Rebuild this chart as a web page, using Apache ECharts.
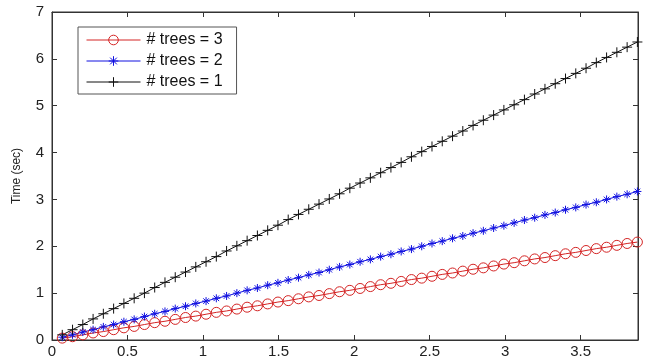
<!DOCTYPE html>
<html>
<head>
<meta charset="utf-8">
<script src="https://cdn.jsdelivr.net/npm/echarts@6/dist/echarts.min.js"></script>
<style>
html,body{margin:0;padding:0;background:#fff;}
#chart{width:645px;height:360px;}
</style>
</head>
<body>
<div id="chart"></div>
<script>
// x positions of the samples
var xs = [0.068,0.136,0.204,0.272,0.34,0.408,0.476,0.544,0.612,0.68,0.748,0.816,0.884,0.952,1.02,1.088,1.156,1.224,1.292,1.36,1.428,1.496,1.564,1.632,1.7,1.768,1.836,1.904,1.972,2.04,2.108,2.176,2.244,2.312,2.38,2.448,2.516,2.584,2.652,2.72,2.788,2.856,2.924,2.992,3.06,3.128,3.196,3.264,3.332,3.4,3.468,3.536,3.604,3.672,3.74,3.808,3.876];
// time (sec)
var trees3 = [0.04,0.07,0.11,0.15,0.18,0.22,0.26,0.29,0.33,0.37,0.40,0.44,0.48,0.51,0.55,0.59,0.62,0.66,0.70,0.73,0.77,0.81,0.84,0.88,0.92,0.95,0.99,1.03,1.06,1.10,1.14,1.18,1.21,1.25,1.29,1.32,1.36,1.40,1.43,1.47,1.51,1.54,1.58,1.62,1.65,1.69,1.73,1.76,1.80,1.84,1.87,1.91,1.95,1.98,2.02,2.06,2.09];
var trees2 = [0.06,0.11,0.17,0.22,0.28,0.33,0.39,0.44,0.50,0.56,0.61,0.67,0.72,0.78,0.83,0.89,0.94,1.00,1.06,1.11,1.17,1.22,1.28,1.33,1.39,1.44,1.50,1.56,1.61,1.67,1.72,1.78,1.83,1.89,1.94,2.00,2.06,2.11,2.17,2.22,2.28,2.33,2.39,2.44,2.50,2.56,2.61,2.67,2.72,2.78,2.83,2.89,2.94,3.00,3.06,3.11,3.17];
var trees1 = [0.11,0.22,0.33,0.45,0.56,0.67,0.78,0.89,1.00,1.12,1.23,1.34,1.45,1.56,1.67,1.78,1.90,2.01,2.12,2.23,2.34,2.45,2.57,2.68,2.79,2.90,3.01,3.12,3.24,3.35,3.46,3.57,3.68,3.79,3.91,4.02,4.13,4.24,4.35,4.46,4.58,4.69,4.80,4.91,5.02,5.13,5.25,5.36,5.47,5.58,5.69,5.80,5.92,6.03,6.14,6.25,6.36];
var names = ['# trees = 3', '# trees = 2', '# trees = 1'];

function pairs(ys){
	var out = [];
	for (var i = 0; i < xs.length; i++) out.push([xs[i], ys[i]]);
	return out;
}

var plusPath = 'path://M5,0L5,10M0,5L10,5';
var starPath = 'path://M5,0L5,10M0,5L10,5M1.5,1.5L8.5,8.5M1.5,8.5L8.5,1.5';

var font = {fontFamily:'Liberation Sans, Arial, sans-serif', fontSize:15, color:'#222'};
var axisCol = '#333';

var myChart = echarts.init(document.getElementById('chart'));
var option = {
	animation:false,
	backgroundColor:'#fff',
	grid:{left:52, right:7, top:12, bottom:20, show:true, borderColor:axisCol, borderWidth:1, backgroundColor:'transparent'},
	legend:{
		orient:'vertical',
		left:78, top:27,
		padding:[5,14,4,8],
		itemGap:5,
		itemWidth:54, itemHeight:12,
		backgroundColor:'#fff',
		borderColor:'#555', borderWidth:1, borderRadius:0,
		lineStyle:{width:1},
		itemStyle:{borderWidth:1},
		textStyle:{fontFamily:font.fontFamily, fontSize:16, color:'#111', padding:[0,0,0,1]},
		data:names
	},
	xAxis:[{
		type:'value', min:0, max:3.88, interval:0.5,
		axisLine:{show:true, onZero:false, lineStyle:{color:axisCol}},
		axisTick:{show:true, inside:true, length:5, lineStyle:{color:axisCol}},
		axisLabel:Object.assign({margin:4, showMaxLabel:false}, font),
		splitLine:{show:false}
	},{
		type:'value', position:'top', min:0, max:3.88, interval:0.5,
		axisLine:{show:true, onZero:false, lineStyle:{color:axisCol}},
		axisTick:{show:true, inside:true, length:5, lineStyle:{color:axisCol}},
		axisLabel:{show:false},
		splitLine:{show:false}
	}],
	yAxis:[{
		type:'value', min:0, max:7, interval:1,
		name:'Time (sec)', nameLocation:'middle', nameGap:29,
		nameTextStyle:{fontFamily:font.fontFamily, fontSize:12, color:'#222'},
		axisLine:{show:true, onZero:false, lineStyle:{color:axisCol}},
		axisTick:{show:true, inside:true, length:5, lineStyle:{color:axisCol}},
		axisLabel:Object.assign({margin:8}, font),
		splitLine:{show:false}
	},{
		type:'value', position:'right', min:0, max:7, interval:1,
		axisLine:{show:true, onZero:false, lineStyle:{color:axisCol}},
		axisTick:{show:true, inside:true, length:5, lineStyle:{color:axisCol}},
		axisLabel:{show:false},
		splitLine:{show:false}
	}],
	series:[{
		name:names[0], type:'line', data:pairs(trees3),
		symbol:'circle', symbolSize:10, showAllSymbol:true,
		lineStyle:{color:'#d42424', width:1},
		itemStyle:{color:'transparent', borderColor:'#d42424', borderWidth:1}
	},{
		name:names[1], type:'line', data:pairs(trees2),
		symbol:starPath, symbolSize:8, showAllSymbol:true,
		lineStyle:{color:'#1010e0', width:1},
		itemStyle:{color:'#1010e0', borderColor:'#1010e0', borderWidth:1}
	},{
		name:names[2], type:'line', data:pairs(trees1),
		symbol:plusPath, symbolSize:10, showAllSymbol:true,
		lineStyle:{color:'#111', width:1},
		itemStyle:{color:'#111', borderColor:'#111', borderWidth:1}
	}]
};
myChart.setOption(option);
</script>
</body>
</html>
